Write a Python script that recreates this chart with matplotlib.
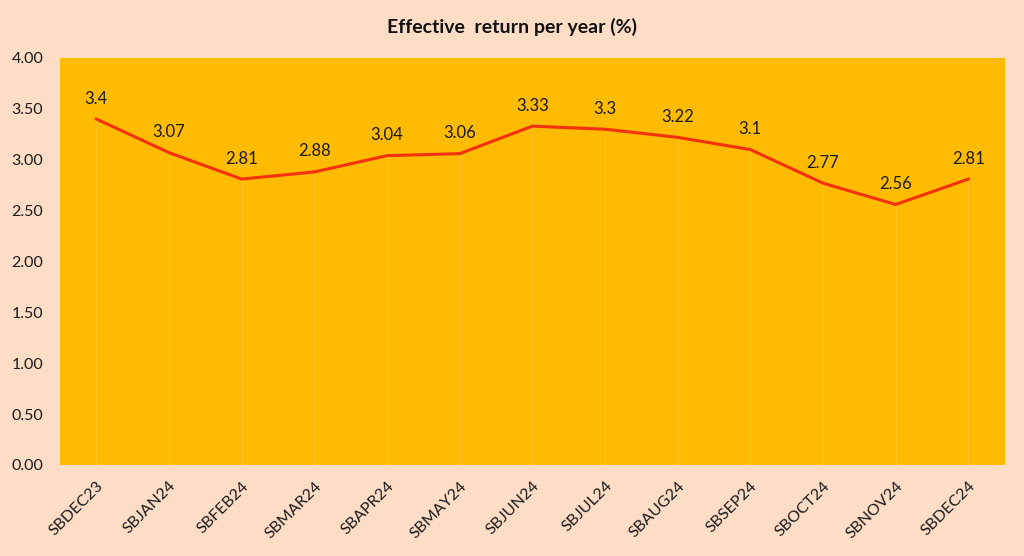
import matplotlib.pyplot as plt
import numpy as np

categories = ["SBDEC23", "SBJAN24", "SBFEB24", "SBMAR24", "SBAPR24", "SBMAY24", "SBJUN24",
              "SBJUL24", "SBAUG24", "SBSEP24", "SBOCT24", "SBNOV24", "SBDEC24"]
returns = [3.4, 3.07, 2.81, 2.88, 3.04, 3.06, 3.33, 3.3, 3.22, 3.1, 2.77, 2.56, 2.81]
value_labels = ["3.4", "3.07", "2.81", "2.88", "3.04", "3.06", "3.33", "3.3", "3.22", "3.1", "2.77", "2.56", "2.81"]

plt.rcParams['font.family'] = ['Lato', 'DejaVu Sans']

fig = plt.figure(figsize=(10.24, 5.56), dpi=100)
fig.patch.set_facecolor("#FDDDC5")
ax = fig.add_axes([0.0586, 0.1637, 0.9225, 0.732])
ax.set_facecolor("#FFBB00")

x = np.arange(len(categories))
# faint drop lines
ax.vlines(x, 0, returns, color="#FFD36A", lw=0.8, alpha=0.35)
ax.plot(x, returns, color="#F5300F", lw=2.2)

for xi, v, lab in zip(x, returns, value_labels):
    ax.annotate(lab, (xi, v), xytext=(0, 9), textcoords="offset points",
                ha="center", va="bottom", fontsize=12, color="#1a1a1a")

ax.set_xlim(-0.5, len(categories) - 0.5)
ax.set_ylim(0, 4)
ax.set_yticks(np.arange(0, 4.01, 0.5))
ax.set_yticklabels(["{:.2f}".format(t) for t in np.arange(0, 4.01, 0.5)])
ax.set_xticks(x)
ax.set_xticklabels(categories, rotation=45, ha="right", rotation_mode="anchor")
ax.tick_params(axis="both", length=0, labelsize=11.5, colors="#1a1a1a")
ax.tick_params(axis="y", pad=12)
ax.tick_params(axis="x", pad=10)
for s in ax.spines.values():
    s.set_visible(False)

fig.text(0.5, 0.952, "Effective  return per year (%)", ha="center", va="center",
         fontsize=14, fontweight="bold", color="#111111")

fig.savefig("out.png", dpi=100, facecolor=fig.get_facecolor())
